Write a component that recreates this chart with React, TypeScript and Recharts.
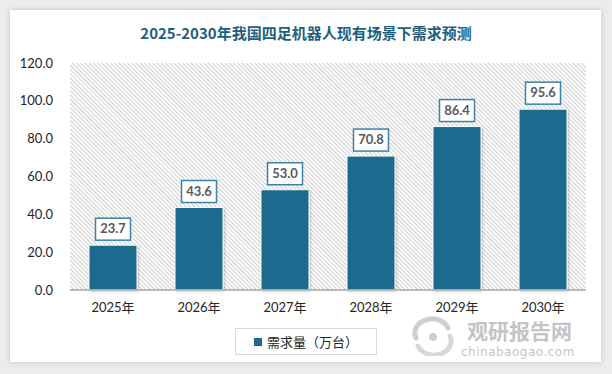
import { BarChart, Bar, XAxis, YAxis, CartesianGrid, LabelList } from 'recharts';

const years = ['2025年', '2026年', '2027年', '2028年', '2029年', '2030年'];
const demand = [23.7, 43.6, 53.0, 70.8, 86.4, 95.6];
const yTicks = [0, 20, 40, 60, 80, 100, 120];

const data = years.map((y, i) => ({ year: y, value: demand[i] }));

const FONT = 'Lato, "Noto Sans CJK SC", sans-serif';
const BAR = '#1c6a8e';

function ValueLabel(props: any) {
  const { x, y, width, value } = props;
  const w = 35;
  const h = 22;
  const cx = x + width / 2;
  const top = y - 5 - h;
  return (
    <g>
      <rect x={cx - w / 2} y={top} width={w} height={h} fill="#fff" stroke="#3b82a6" strokeWidth={1.5} />
      <text
        x={cx}
        y={top + h / 2 + 1}
        textAnchor="middle"
        dominantBaseline="middle"
        fontSize={13}
        fontWeight={700}
        fill="#595959"
        fontFamily={FONT}
      >
        {Number(value).toFixed(1)}
      </text>
    </g>
  );
}

export default function App() {
  return (
    <div
      style={{
        position: 'absolute',
        left: 0,
        top: 0,
        width: 612,
        height: 374,
        background: '#ececec',
        overflow: 'hidden',
        fontFamily: FONT,
      }}
    >
      <svg width={0} height={0} style={{ position: 'absolute' }}>
        <defs>
          <pattern id="hatch" width={3} height={3} patternUnits="userSpaceOnUse" patternTransform="rotate(-45)">
            <line x1={0.5} y1={0} x2={0.5} y2={3} stroke="#cccccc" strokeWidth={1} />
          </pattern>
          <filter id="shadow" x="-20%" y="-20%" width="140%" height="140%">
            <feDropShadow dx={1} dy={1} stdDeviation={1.2} floodColor="#000" floodOpacity={0.25} />
          </filter>
        </defs>
      </svg>
      <div
        style={{
          position: 'absolute',
          left: 10,
          top: 10,
          width: 591,
          height: 352,
          background: '#fff',
          boxShadow: '0 0 6px rgba(0,0,0,0.18)',
        }}
      />
      <div
        style={{
          position: 'absolute',
          left: 0,
          top: 22,
          width: 612,
          textAlign: 'center',
          fontSize: 15,
          fontWeight: 700,
          color: '#1f5f7e',
          fontFamily: '"Noto Sans CJK SC", sans-serif',
          lineHeight: '22px',
        }}
      >
        2025-2030年我国四足机器人现有场景下需求预测
      </div>
      <div style={{ position: 'absolute', left: 0, top: 0 }}>
        <BarChart
          width={612}
          height={374}
          data={data}
          margin={{ top: 63, right: 26, left: 20, bottom: 54 }}
          barSize={48}
        >
          <CartesianGrid horizontal={false} vertical={false} fill="url(#hatch)" />
          <XAxis
            dataKey="year"
            tickLine={false}
            tickSize={0}
            tickMargin={13}
            height={30}
            axisLine={{ stroke: '#a6a6a6', strokeWidth: 1.5 }}
            tick={{ fontSize: 13, fill: '#262626', fontFamily: FONT }}
            interval={0}
          />
          <YAxis
            width={50}
            domain={[0, 120]}
            ticks={yTicks}
            tickFormatter={(v: number) => v.toFixed(1)}
            axisLine={false}
            tickLine={false}
            tickSize={0}
            tickMargin={17}
            tick={{ fontSize: 13, fill: '#262626', fontFamily: FONT }}
          />
          <Bar
            dataKey="value"
            fill={BAR}
            stroke="#fff"
            strokeWidth={1}
            isAnimationActive={false}
            style={{ filter: 'url(#shadow)' }}
          >
            <LabelList dataKey="value" content={<ValueLabel />} />
          </Bar>
        </BarChart>
      </div>
      <div
        style={{
          position: 'absolute',
          left: 235,
          top: 328,
          width: 142,
          height: 27,
          border: '1px solid #d9d9d9',
          boxSizing: 'border-box',
          display: 'flex',
          alignItems: 'center',
          justifyContent: 'center',
          fontSize: 13,
          color: '#262626',
          fontFamily: '"Noto Sans CJK SC", sans-serif',
        }}
      >
        <span style={{ display: 'inline-block', width: 8, height: 8, background: BAR, marginRight: 5 }} />
        需求量（万台）
      </div>
      <svg width={50} height={40} style={{ position: 'absolute', left: 408, top: 316 }}>
        <path d="M8 22 A17 14 0 0 1 40 12" fill="none" stroke="#cfcfcf" strokeWidth={5} strokeLinecap="round" />
        <path d="M42 20 A17 14 0 0 1 10 30" fill="none" stroke="#d8d8d8" strokeWidth={5} strokeLinecap="round" />
        <circle cx={25} cy={21} r={4} fill="#cfcfcf" />
      </svg>
      <div
        style={{
          position: 'absolute',
          left: 467,
          top: 319,
          fontSize: 21,
          fontWeight: 700,
          color: '#c4c4c4',
          fontFamily: '"Noto Sans CJK SC", sans-serif',
          lineHeight: '22px',
        }}
      >
        观研报告网
      </div>
      <div
        style={{
          position: 'absolute',
          left: 461,
          top: 346,
          fontSize: 12,
          color: '#c4c4c4',
          fontFamily: '"DejaVu Sans", sans-serif',
          lineHeight: '12px',
          letterSpacing: 0.5,
        }}
      >
        chinabaogao.com
      </div>
    </div>
  );
}
